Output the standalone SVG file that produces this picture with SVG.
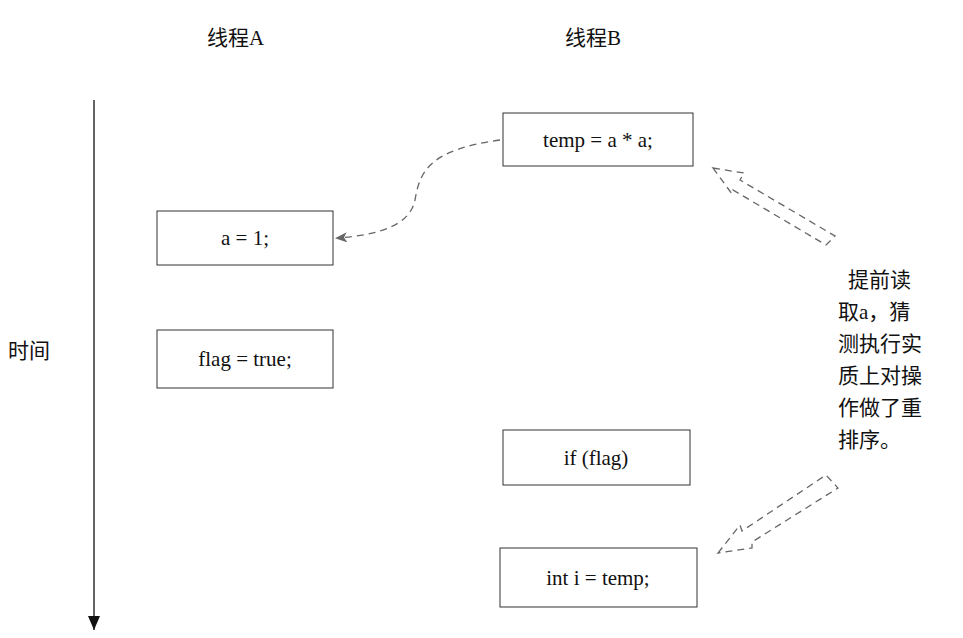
<svg xmlns="http://www.w3.org/2000/svg" width="963" height="638" viewBox="0 0 963 638">
<style>
text{font-family:"Liberation Serif","Noto Sans CJK SC",serif;font-size:21px;fill:#111}
.box{fill:#fff;stroke:#333;stroke-width:1}
.d{fill:none;stroke:#666;stroke-width:1.3;stroke-dasharray:7,5}
</style>
<defs>
<marker id="ah" markerWidth="12" markerHeight="10" refX="10" refY="5" orient="auto" markerUnits="userSpaceOnUse"><path d="M0,0 L12,5 L0,10 L3,5 Z" fill="#666"/></marker>
<marker id="ta" markerWidth="14" markerHeight="12" refX="14" refY="6" orient="auto" markerUnits="userSpaceOnUse"><path d="M0,0 L14,6 L0,12 Z" fill="#111"/></marker>
</defs>
<rect width="963" height="638" fill="#fff"/>
<text x="207" y="45">线程A</text>
<text x="565" y="45">线程B</text>
<g id="axis"><line x1="94" y1="100" x2="94" y2="630" stroke="#111" stroke-width="1.3" marker-end="url(#ta)"/><text x="8" y="358">时间</text></g>
<g id="n1"><rect class="box" x="503" y="113" width="190" height="53"/><text x="598" y="147" text-anchor="middle">temp = a * a;</text></g>
<g id="n2"><rect class="box" x="157" y="211" width="176" height="54"/><text x="245" y="245" text-anchor="middle">a = 1;</text></g>
<g id="n3"><rect class="box" x="157" y="330" width="176" height="58"/><text x="245" y="366" text-anchor="middle">flag = true;</text></g>
<g id="n4"><rect class="box" x="503" y="430" width="187" height="55"/><text x="596" y="465" text-anchor="middle">if (flag)</text></g>
<g id="n5"><rect class="box" x="500" y="548" width="197" height="59"/><text x="598" y="585" text-anchor="middle">int i = temp;</text></g>
<g id="note" style="font-size:22px"><text x="838" y="287"><tspan x="848">提前读</tspan><tspan x="838" dy="32">取a，猜</tspan><tspan x="838" dy="32">测执行实</tspan><tspan x="838" dy="32">质上对操</tspan><tspan x="838" dy="32">作做了重</tspan><tspan x="838" dy="32">排序。</tspan></text></g>
<g id="connectors">
<path class="d" d="M500,140 C430,150 420,170 415,200 C410,225 380,235 337,238" marker-end="url(#ah)"/>
<path class="d" d="M713,168 L744,173 L740,180 L835,236 L826,245 L733,190 L732,194 Z"/>
<path class="d" d="M718,553 L740,525 L742,531 L826,475 L838,488 L752,542 L752,548 Z"/>
</g>
</svg>
